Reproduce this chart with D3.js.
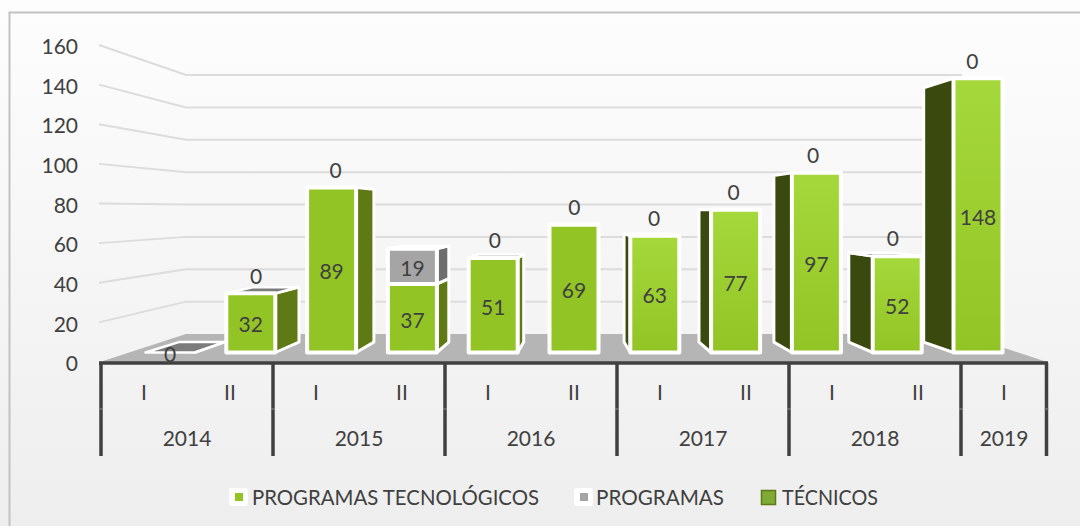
<!DOCTYPE html>
<html><head><meta charset="utf-8">
<script src="https://cdn.jsdelivr.net/npm/d3@7/dist/d3.min.js"></script>
<style>html,body{margin:0;padding:0;background:#f5f5f5;overflow:hidden}svg{display:block}text{font-family:Lato,"Open Sans",sans-serif;fill:#404040}</style>
</head><body><svg id="c" width="1080" height="526"></svg>
<script>
const periods=["I","II","I","II","I","II","I","II","I","II","I"];
const years=[2014,2014,2015,2015,2016,2016,2017,2017,2018,2018,2019];
const tecnologicos=[0,32,89,37,51,69,63,77,97,52,148];
const programas=[0,0,0,19,0,0,0,0,0,0,0];
const tecnicos=[0,0,0,0,0,0,0,0,0,0,0];
const yTicks=[0,20,40,60,80,100,120,140,160];
const legendNames=["PROGRAMAS TECNOLÓGICOS","PROGRAMAS","TÉCNICOS"];

const svg=d3.select("#c"),defs=svg.append("defs");
const bg=defs.append("linearGradient").attr("id","bg").attr("x1",0).attr("y1",0).attr("x2",0).attr("y2",1);
bg.append("stop").attr("offset",0).attr("stop-color","#fdfdfd");
bg.append("stop").attr("offset",1).attr("stop-color","#eeeeee");
const gr=defs.append("linearGradient").attr("id","gr").attr("x1",0).attr("y1",0).attr("x2",0).attr("y2",1);
gr.append("stop").attr("offset",0).attr("stop-color","#a5d83a");
gr.append("stop").attr("offset",1).attr("stop-color","#92c425");
svg.append("rect").attr("width",1080).attr("height",526).attr("fill","url(#bg)");
svg.append("path").attr("d","M9.5,526V12.5H1080").attr("fill","none").attr("stroke","#c2c2c2").attr("stroke-width",2);

// scales
const yFront=d3.scaleLinear().domain([0,160]).range([362,45]);
const yBack=d3.scaleLinear().domain([0,160]).range([334,75]);
const yBar=d3.scaleLinear().domain([0,160]).range([352.5,56]);
const xAxis=d3.scaleBand().domain(d3.range(periods.length)).range([101,1047]);
const xBar=d3.scaleBand().domain(d3.range(periods.length)).range([129.6,1018.4]);
const barW=49, vxL=600, vxR=545, vy=210, k=0.073;
const xFloorL=100,xFloorR=1047,xBackL=186,xBackR=962;

// floor + grid
svg.append("path").attr("fill","#b5b5b5").attr("d",d3.line()([[xFloorL,yFront(0)],[xBackL,yBack(0)],[xBackR,yBack(0)],[xFloorR,yFront(0)]]));
svg.append("g").selectAll("path").data(yTicks.filter(d=>d>0)).join("path")
 .attr("fill","none").attr("stroke","#dcdcdc").attr("stroke-width",2)
 .attr("d",d=>d3.line()([[99,yFront(d)],[xBackL,yBack(d)],[xBackR,yBack(d)]]));

// y axis
const ya=svg.append("g").attr("transform","translate(78,2)").call(d3.axisLeft(yFront).tickValues(yTicks).tickSize(0).tickPadding(0));
ya.select(".domain").remove();
ya.selectAll("text").attr("font-size",21).style("font-family","Lato").style("fill","#404040");

// bars
const gb=svg.append("g");
const poly=pts=>d3.line()(pts)+"Z";
function prism(i,v0,v1,front,side,showTop){
  const x0=xBar(i)+xBar.bandwidth()/2-barW/2,x1=x0+barW,yt=yBar(v1),yb=yBar(v0);
  const vx=x0>vxL?vxR:vxL;
  const back=(x,y)=>[x+(vx-x)*k,y+(vy-y)*k];
  const g=gb.append("g").attr("stroke","#fff").attr("stroke-linejoin","round");
  const ex=x1<vxL?x1:(x0>vxL?x0:null);
  if(ex!==null) g.append("path").attr("stroke-width",3).attr("fill",side).attr("d",poly([[ex,yt],back(ex,yt),back(ex,yb),[ex,yb]]));
  if(showTop&&yt>vy) g.append("path").attr("stroke-width",2.5).attr("fill","#7c7c7c").attr("d",poly([[x0,yt],[x1,yt],back(x1,yt),back(x0,yt)]));
  if(v1>v0) g.append("rect").attr("stroke-width",4).attr("x",x0).attr("y",yt).attr("width",barW).attr("height",yb-yt).attr("fill",front);
}
periods.forEach((p,i)=>{
  const c=xBar(i)+xBar.bandwidth()/2, right=c-barW/2>vxL;
  const a=tecnologicos[i],b=programas[i];
  prism(i,0,a,right?"url(#gr)":"#92c425",right?"#3a4a0e":"#5f7a15",b===0);
  if(b>0) prism(i,a,a+b,"#a5a5a5","#6e6e6e",true);
});

// value labels
const gl=svg.append("g").attr("text-anchor","middle").attr("font-size",21);
periods.forEach((p,i)=>{
  const c=xBar(i)+xBar.bandwidth()/2,a=tecnologicos[i],b=programas[i],t=tecnicos[i];
  const lift=c+(vxL-c)*0.015;
  gl.append("text").attr("x",c).attr("y",(yBar(a)+yBar(0))/2+2).attr("dy","0.35em").text(a);
  if(b>0) gl.append("text").attr("x",c).attr("y",(yBar(a+b)+yBar(a))/2+2).attr("dy","0.35em").text(b);
  else if(a>0) gl.append("text").attr("x",lift).attr("y",yBar(a)-17).attr("dy","0.35em").text(t);
});

// x axis
const axisY=363,axisB=456,midY=409;
const bounds=[];
years.forEach((y,i)=>{if(i===0||years[i-1]!==y)bounds.push(xAxis(i));});
bounds.push(xAxis.range()[1]-0.5);
const ga=svg.append("g");
ga.selectAll("line.t").data(bounds).join("line").attr("x1",d=>d).attr("x2",d=>d).attr("y1",axisY).attr("y2",axisB).attr("stroke","#404040").attr("stroke-width",3.5);
ga.selectAll("line.m").data(bounds).join("line").attr("x1",d=>d-2).attr("x2",d=>d+2).attr("y1",midY).attr("y2",midY).attr("stroke","#8a8a8a").attr("stroke-width",1);
ga.append("line").attr("x1",99).attr("x2",1048).attr("y1",axisY).attr("y2",axisY).attr("stroke","#404040").attr("stroke-width",3.5);
ga.selectAll("text.p").data(periods).join("text").attr("text-anchor","middle").attr("font-size",21)
 .attr("x",(d,i)=>xAxis(i)+xAxis.bandwidth()/2).attr("y",393).attr("dy","0.35em").text(d=>d);
const uy=Array.from(new Set(years));
ga.selectAll("text.y").data(uy).join("text").attr("text-anchor","middle").attr("font-size",21)
 .attr("x",y=>{const idx=years.map((v,i)=>v===y?i:-1).filter(i=>i>=0);return (xAxis(idx[0])+xAxis(idx[idx.length-1])+xAxis.bandwidth())/2;})
 .attr("y",439).attr("dy","0.35em").text(d=>d);

// legend
const lg=svg.append("g");
const lx=[229,574];
[0,1].forEach(i=>{
  lg.append("rect").attr("x",lx[i]).attr("y",488).attr("width",19).attr("height",18).attr("rx",3).attr("fill","#fff");
  lg.append("rect").attr("x",lx[i]+6).attr("y",493).attr("width",8).attr("height",8).attr("fill",i?"#a5a5a5":"#92c425");
});
lg.append("rect").attr("x",761.5).attr("y",490.5).attr("width",14).attr("height",14).attr("fill","#7faa35").attr("stroke","#5f7a15").attr("stroke-width",1.5);
const tx=[252,596,782],tw=[287,128,96];
legendNames.forEach((n,i)=>lg.append("text").attr("x",tx[i]).attr("y",497).attr("dy","0.35em").attr("font-size",22).attr("textLength",tw[i]).attr("lengthAdjust","spacingAndGlyphs").text(n));
</script></body></html>
